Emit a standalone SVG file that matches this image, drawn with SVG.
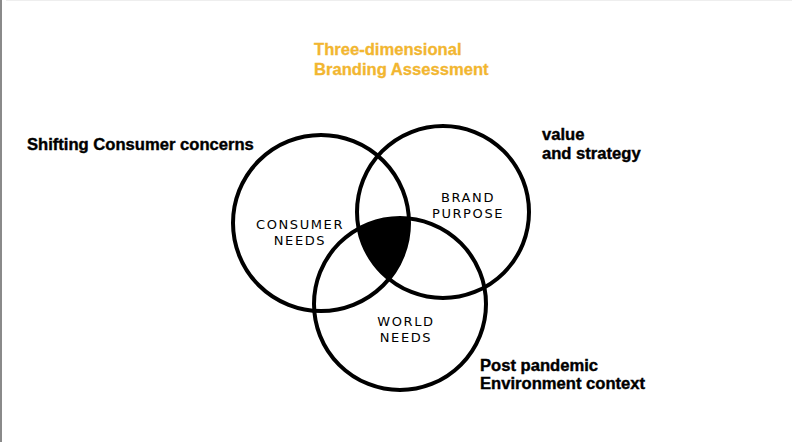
<svg xmlns="http://www.w3.org/2000/svg" width="792" height="442" viewBox="0 0 792 442">
<style>
.lbl{font-family:"Liberation Sans",Arial,sans-serif;font-weight:bold;font-size:16.6px;fill:#000;stroke:#000;stroke-width:0.4}
.title{font-family:"Liberation Sans",Arial,sans-serif;font-weight:bold;font-size:16.6px;fill:#F2B630;stroke:#F2B630;stroke-width:0.3}
.hand{font-family:"DejaVu Sans",sans-serif;font-size:13px;fill:#000;letter-spacing:1.6px}
.ring{fill:none;stroke:#000;stroke-width:4}
</style>
<defs>
<clipPath id="c1"><circle cx="321" cy="223" r="88"/></clipPath>
<clipPath id="c2"><circle cx="443" cy="212" r="86"/></clipPath>
</defs>
<rect width="792" height="442" fill="#fff"/>
<rect x="0" y="0" width="2" height="442" fill="#8a8a8a"/>
<rect x="6" y="0" width="786" height="1" fill="#eeeeee"/>
<g id="title">
<text class="title" x="314" y="55">Three-dimensional</text>
<text class="title" x="314" y="75">Branding Assessment</text>
</g>
<g id="center-fill">
<g clip-path="url(#c1)"><g clip-path="url(#c2)"><circle cx="400" cy="304" r="86" fill="#000"/></g></g>
</g>
<g id="consumer-needs">
<circle class="ring" cx="321" cy="223" r="88"/>
<text class="hand" x="300" y="229" text-anchor="middle">CONSUMER</text>
<text class="hand" x="300" y="245" text-anchor="middle">NEEDS</text>
</g>
<g id="brand-purpose">
<circle class="ring" cx="443" cy="212" r="86"/>
<text class="hand" x="468" y="202" text-anchor="middle">BRAND</text>
<text class="hand" x="468" y="218" text-anchor="middle">PURPOSE</text>
</g>
<g id="world-needs">
<circle class="ring" cx="400" cy="304" r="86"/>
<text class="hand" x="406" y="326" text-anchor="middle">WORLD</text>
<text class="hand" x="406" y="342" text-anchor="middle">NEEDS</text>
</g>
<g id="labels">
<text class="lbl" x="27" y="150">Shifting Consumer concerns</text>
<text class="lbl" x="542" y="140">value</text>
<text class="lbl" x="542" y="159">and strategy</text>
<text class="lbl" x="480" y="371">Post pandemic</text>
<text class="lbl" x="480" y="389">Environment context</text>
</g>
</svg>
